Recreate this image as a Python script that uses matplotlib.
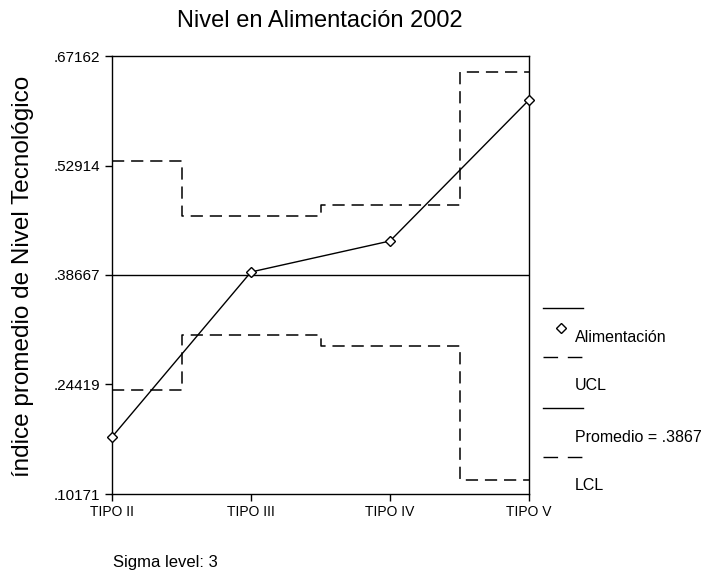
import numpy as np
import matplotlib
matplotlib.use("Agg")
import matplotlib.pyplot as plt
from matplotlib.lines import Line2D

plt.rcParams["font.family"] = ["Liberation Sans", "DejaVu Sans"]

# datos
categorias = ["TIPO II", "TIPO III", "TIPO IV", "TIPO V"]
alimentacion = [0.1759, 0.3906, 0.4309, 0.6144]
ucl = [0.5350, 0.4634, 0.4777, 0.6508]
lcl = [0.2370, 0.3086, 0.2943, 0.1199]
promedio = 0.3867
yticks = [0.10171, 0.24419, 0.38667, 0.52914, 0.67162]
ytick_labels = [".10171", ".24419", ".38667", ".52914", ".67162"]

W, H = 706, 571
fig = plt.figure(figsize=(W / 100, H / 100), dpi=100)
# ejes en pixeles: izq 112, der 529, arriba 56, abajo 494
ax = fig.add_axes([112 / W, 1 - 494 / H, (529 - 112) / W, (494 - 56) / H])

x = np.arange(len(categorias))
dash = (0, (8, 4.5))
ax.plot(x, ucl, drawstyle="steps-mid", color="black", lw=1.1, linestyle=dash)
ax.plot(x, lcl, drawstyle="steps-mid", color="black", lw=1.1, linestyle=dash)
ax.axhline(promedio, color="black", lw=1)
ax.plot(x, alimentacion, color="black", lw=1, marker="D", markersize=5.5,
        markerfacecolor="white", markeredgecolor="black", clip_on=False, zorder=5)

ax.set_xlim(0, 3)
ax.set_ylim(yticks[0], yticks[-1])
ax.set_xticks(x)
ax.set_xticklabels(categorias, fontsize=10)
ax.set_yticks(yticks)
ax.set_yticklabels(ytick_labels, fontsize=11)
ax.tick_params(direction="out", length=5, width=1)
ax.tick_params(axis="y", pad=3.5)
ax.tick_params(axis="x", pad=3)
for s in ax.spines.values():
    s.set_linewidth(1)

fig.text(320 / W, 1 - 21 / H, "Nivel en Alimentación 2002", ha="center", va="center", fontsize=17)
fig.text(23 / W, 1 - 276 / H, "índice promedio de Nivel Tecnológico", ha="center", va="center",
         rotation=90, fontsize=17.5)
fig.text(113 / W, 1 - 562 / H, "Sigma level: 3", ha="left", va="center", fontsize=12)

# leyenda estilo SPSS
def fy(py):
    return 1 - py / H

x0, x1 = 543 / W, 583 / W
ldash = (0, (10.5, 7))
fig.add_artist(Line2D([x0, x1], [fy(308)] * 2, color="black", lw=1, transform=fig.transFigure))
fig.add_artist(Line2D([561 / W], [fy(328)], marker="D", markersize=5, markerfacecolor="white",
                      markeredgecolor="black", transform=fig.transFigure))
fig.add_artist(Line2D([x0, x1], [fy(357)] * 2, color="black", lw=1, linestyle=ldash,
                      transform=fig.transFigure))
fig.add_artist(Line2D([x0, x1], [fy(408)] * 2, color="black", lw=1, transform=fig.transFigure))
fig.add_artist(Line2D([x0, x1], [fy(457)] * 2, color="black", lw=1, linestyle=ldash,
                      transform=fig.transFigure))
for txt, py in [("Alimentación", 337), ("UCL", 386), ("Promedio = .3867", 437), ("LCL", 486)]:
    fig.text(575 / W, fy(py), txt, ha="left", va="center", fontsize=11.5)

fig.savefig("out.png", dpi=100)
